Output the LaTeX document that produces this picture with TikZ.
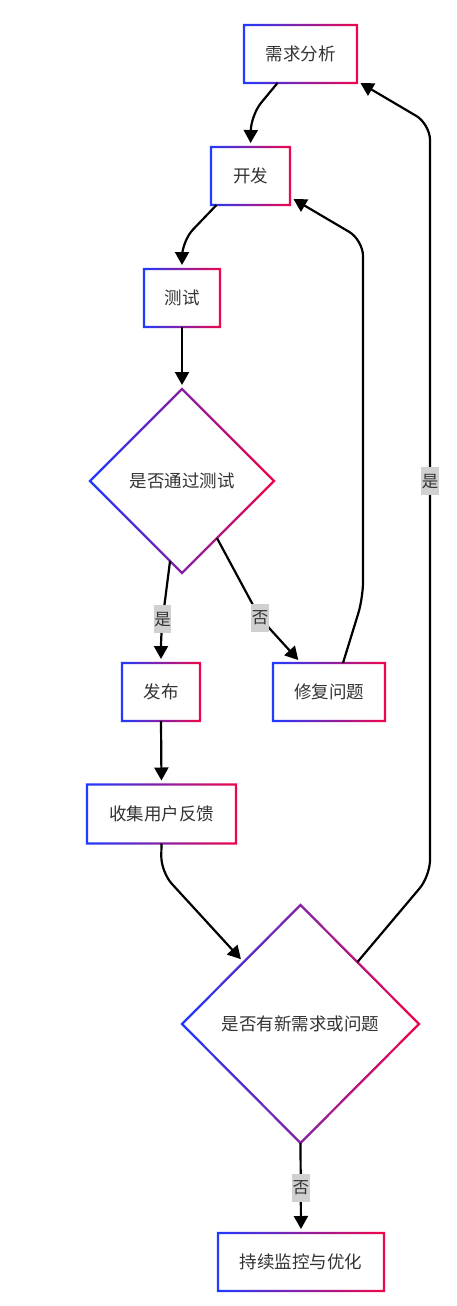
\documentclass[tikz,border=0pt]{standalone}
\usepackage{fontspec}
\setmainfont{Noto Sans CJK SC}
\usetikzlibrary{shapes.geometric,arrows.meta,calc}
\definecolor{gl}{HTML}{1F3BFF}
\definecolor{gr}{HTML}{F0064A}
\definecolor{txt}{HTML}{333333}
\definecolor{labbg}{HTML}{D0D0D0}
\newcommand\gradrect[1]{%
  \shade[left color=gl,right color=gr,even odd rule]
    ([shift={(-1.2pt,-1.2pt)}]#1.south west) rectangle ([shift={(1.2pt,1.2pt)}]#1.north east)
    ([shift={(1.2pt,1.2pt)}]#1.south west) rectangle ([shift={(-1.2pt,-1.2pt)}]#1.north east);}
\newcommand\graddia[1]{%
  \shade[left color=gl,right color=gr,even odd rule]
    ([yshift=1.6pt]#1.north) -- ([xshift=1.6pt]#1.east) -- ([yshift=-1.6pt]#1.south) -- ([xshift=-1.6pt]#1.west) -- cycle
    ([yshift=-1.6pt]#1.north) -- ([xshift=-1.6pt]#1.east) -- ([yshift=1.6pt]#1.south) -- ([xshift=1.6pt]#1.west) -- cycle;}
\begin{document}
\begin{tikzpicture}[x=1pt,y=-1pt,
  box/.style={rectangle, inner sep=0pt, outer sep=0pt, text=txt, font=\fontsize{17.5}{20}\selectfont},
  dia/.style={diamond, aspect=1, inner sep=0pt, outer sep=0pt, text=txt, font=\fontsize{17.5}{20}\selectfont},
  arr/.style={line width=2.2pt, -{Triangle[length=13pt,width=14pt]}, shorten >=4pt, rounded corners=16pt},
  lab/.style={sharp corners, fill=labbg, text=txt, font=\fontsize{16.5}{18}\selectfont, inner sep=0.5pt, minimum width=17pt, minimum height=28pt}]
\fill[white] (0,0) rectangle (456,1306);
\useasboundingbox (0,0) rectangle (456,1306);

\node[box, minimum width=113pt, minimum height=58pt] (req) at (300.5,54) {需求分析};
\node[box, minimum width=79pt, minimum height=58pt] (dev) at (250.5,176) {开发};
\node[box, minimum width=76pt, minimum height=58pt] (test) at (182,298) {测试};
\node[dia, minimum width=184pt, minimum height=184pt] (d1) at (182,481) {是否通过测试};
\node[box, minimum width=78pt, minimum height=58pt] (pub) at (161,692) {发布};
\node[box, minimum width=112pt, minimum height=58pt] (fix) at (329,692) {修复问题};
\node[box, minimum width=149pt, minimum height=59pt] (col) at (161.5,814) {收集用户反馈};
\node[dia, minimum width=237pt, minimum height=238pt] (d2) at (300.5,1024) {是否有新需求或问题};
\node[box, minimum width=166pt, minimum height=58pt] (mon) at (301,1262) {持续监控与优化};

\gradrect{req}\gradrect{dev}\gradrect{test}\gradrect{pub}\gradrect{fix}\gradrect{col}\gradrect{mon}
\graddia{d1}\graddia{d2}

\draw[arr] ([xshift=-23pt]req.south) -- (251,115) -- (dev.north);
\draw[arr] ([xshift=-34pt]dev.south) -- (182,241) -- (test.north);
\draw[arr] (test.south) -- (d1.north);
\draw[arr] ($(d1.south)!0.13!(d1.west)$) -- node[lab,pos=0.82]{是} (161,632) -- (pub.north);
\draw[arr] ($(d1.south)!0.38!(d1.east)$) -- node[lab,pos=1]{否} (260,618) -- ([xshift=-28pt]fix.north);
\draw[arr] ([xshift=14pt]fix.north) -- (363,598) -- (363,240) -- ([yshift=8pt]dev.south east);
\draw[arr] (pub.south) -- (col.north);
\draw[arr] (col.south) -- (161,872) -- ($(d2.west)!0.52!(d2.north)$);
\draw[arr] ($(d2.north)!0.48!(d2.east)$) -- (430,876) -- node[lab,pos=0.525]{是} (430,124) -- ([yshift=2pt]req.south east);
\draw[arr] (d2.south) -- node[lab,pos=0.5]{否} (mon.north);
\end{tikzpicture}
\end{document}
